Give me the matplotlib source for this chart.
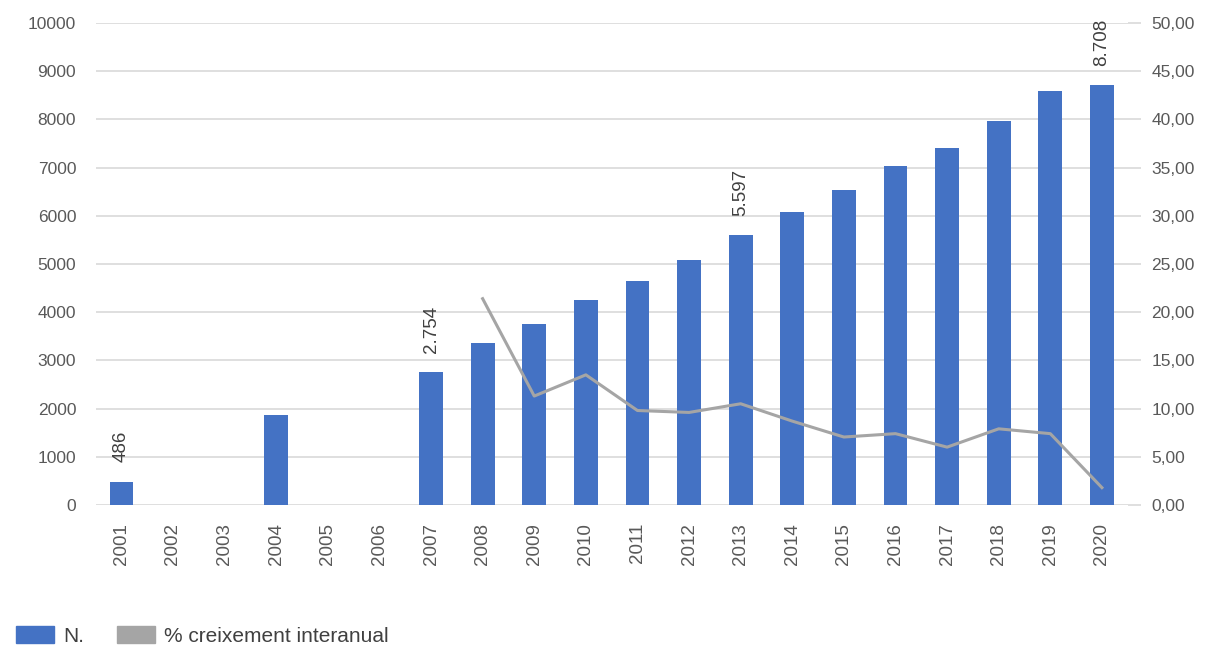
import numpy as np
import matplotlib
matplotlib.use("Agg")
import matplotlib.pyplot as plt
from matplotlib.patches import Patch
from matplotlib.ticker import FuncFormatter

years = [str(y) for y in range(2001, 2021)]
counts = [486, 0, 0, 1860, 0, 0, 2754, 3354, 3750, 4256, 4639, 5090,
          5597, 6076, 6526, 7024, 7405, 7958, 8581, 8708]
growth = [np.nan] * 7 + [21.4, 11.3, 13.5, 9.8, 9.6, 10.5, 8.7, 7.05,
                         7.4, 6.0, 7.9, 7.4, 1.8]
labelled = {"2001": "486", "2007": "2.754", "2013": "5.597", "2020": "8.708"}

BLUE = "#4472C4"
GREY = "#A5A5A5"
TXT = "#595959"

plt.rcParams['font.family'] = ['Liberation Sans', 'DejaVu Sans']

fig = plt.figure(figsize=(12.1, 6.47), dpi=100)
ax = fig.add_axes([0.079, 0.2195, 0.853, 0.745])
x = np.arange(len(years))

ax.bar(x, counts, width=0.46, color=BLUE, zorder=3)
ax.set_xlim(-0.5, len(years) - 0.5)
ax.set_ylim(0, 10000)
ax.set_yticks(range(0, 10001, 1000))
ax.yaxis.grid(True, color="#D9D9D9", lw=1.2, zorder=0)
ax.set_axisbelow(True)
for s in ax.spines.values():
    s.set_visible(False)
ax.set_xticks(x)
ax.set_xticklabels(years, rotation=90, fontsize=13.5, color=TXT)
ax.tick_params(axis='x', length=0, pad=13)
ax.tick_params(axis='y', length=0, labelsize=12.5, labelcolor=TXT, pad=14)

for i, y in enumerate(years):
    if y in labelled:
        ax.text(i, counts[i] + 400, labelled[y], rotation=90, ha='center',
                va='bottom', fontsize=13.5, color="#404040")

ax2 = ax.twinx()
ax2.plot(x, growth, color=GREY, lw=2.2, zorder=4)
ax2.set_ylim(0, 50)
ax2.set_yticks(range(0, 51, 5))
ax2.yaxis.set_major_formatter(FuncFormatter(lambda v, p: f"{v:.2f}".replace(".", ",")))
ax2.tick_params(axis='y', length=9, width=1.2, color="#D9D9D9",
                labelsize=12.5, labelcolor=TXT, pad=8)
for s in ax2.spines.values():
    s.set_visible(False)

handles = [Patch(color=BLUE, label="N."),
           Patch(color=GREY, label="% creixement interanual")]
leg = fig.legend(handles=handles, loc='center left', bbox_to_anchor=(16 / 1210, 11 / 647),
                 ncol=2, frameon=False, fontsize=15, borderpad=0, borderaxespad=0,
                 handlelength=1.8, handleheight=0.87, handletextpad=0.45,
                 columnspacing=1.6)
for t in leg.get_texts():
    t.set_color("#404040")

fig.savefig("out.png", dpi=100)
